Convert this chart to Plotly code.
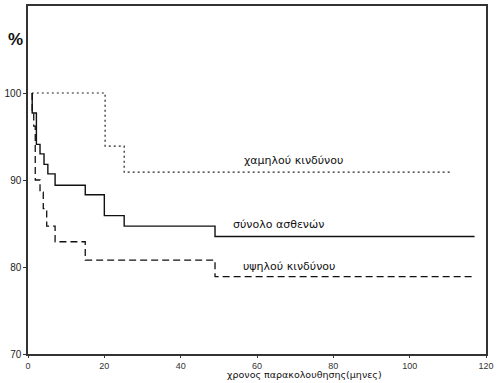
import plotly.graph_objects as go

# Kaplan-Meier style step curves (months, % survival)
low_x = [1.0, 20.2, 25.2, 110.5]
low_y = [100, 93.9, 90.9, 90.9]

total_x = [1.1, 1.1, 2.2, 3.15, 4.2, 5.2, 7.1, 15.0, 20.0, 25.2, 49.0, 117]
total_y = [100, 97.7, 94.1, 93.0, 91.8, 90.7, 89.4, 88.3, 85.9, 84.7, 83.5, 83.5]

high_x = [1.1, 1.1, 1.5, 1.9, 3.15, 4.0, 4.9, 7.1, 15.0, 49.0, 117]
high_y = [100, 97.7, 96.2, 90.0, 88.6, 86.7, 84.7, 82.9, 80.8, 78.9, 78.9]

x_ticks = [0, 20, 40, 60, 80, 100, 120]
y_ticks = [70, 80, 90, 100]

labels = ["χαμηλού κινδύνου", "σύνολο ασθενών", "υψηλού κινδύνου"]
label_x = [56.0, 53.3, 55.8]
label_y = [92.2, 84.9, 80.1]

fig = go.Figure()
fig.add_trace(go.Scatter(x=low_x, y=low_y, mode="lines", line_shape="hv",
                         line=dict(color="#222", width=1.2, dash="2px,3px")))
fig.add_trace(go.Scatter(x=total_x, y=total_y, mode="lines", line_shape="hv",
                         line=dict(color="#111", width=1.4)))
fig.add_trace(go.Scatter(x=high_x, y=high_y, mode="lines", line_shape="hv",
                         line=dict(color="#111", width=1.3, dash="7px,4px")))

for t, x, y in zip(labels, label_x, label_y):
    fig.add_annotation(x=x, y=y, text=t, showarrow=False, xanchor="left",
                       yanchor="middle",
                       font=dict(family="DejaVu Sans", size=11, color="#111"))

fig.add_annotation(x=-0.028, y=0.905, xref="paper", yref="paper", text="<b>%</b>",
                   showarrow=False, xanchor="center", yanchor="middle",
                   font=dict(family="Liberation Sans", size=17, color="#111"))
fig.add_annotation(x=0.603, y=-0.058, xref="paper", yref="paper",
                   text="χρονος παρακολουθησης(μηνες)",
                   showarrow=False, xanchor="center", yanchor="middle",
                   font=dict(family="DejaVu Sans", size=9.5, color="#111"))

fig.update_xaxes(range=[0, 120], tickvals=x_ticks, ticks="outside", ticklen=2,
                 tickcolor="#333", showgrid=False, zeroline=False, automargin=False,
                 showline=True, linecolor="#333", linewidth=1.5, mirror=True,
                 tickfont=dict(family="Liberation Sans", size=9, color="#333"))
fig.update_yaxes(range=[70, 110], tickvals=y_ticks, ticks="outside", ticklen=3,
                 tickcolor="#333", showgrid=False, zeroline=False, automargin=False,
                 showline=True, linecolor="#333", linewidth=1.5, mirror=True,
                 tickfont=dict(family="Liberation Sans", size=10, color="#222"))

fig.update_layout(width=500, height=383, showlegend=False,
                  margin=dict(l=28, r=14, t=6, b=29),
                  paper_bgcolor="white", plot_bgcolor="white")

fig.write_html("out.html", config={"displayModeBar": False},
               post_script="document.body.style.margin='0';")
